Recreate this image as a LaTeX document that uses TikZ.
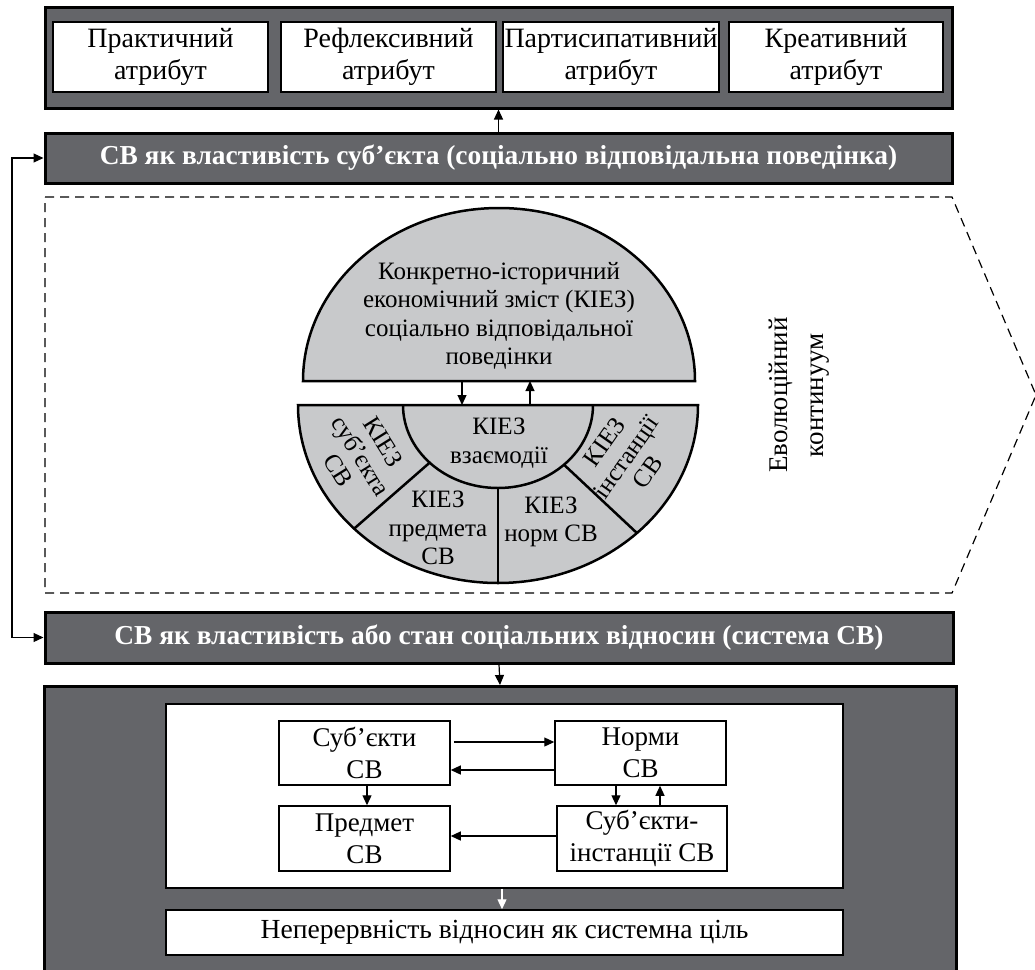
\documentclass[tikz,border=0pt]{standalone}
\usepackage{fontspec}
\setmainfont{Liberation Serif}
\usetikzlibrary{arrows.meta}
\definecolor{darkbg}{RGB}{100,101,105}
\definecolor{lightbg}{RGB}{200,201,203}
\begin{document}
\begin{tikzpicture}[x=1pt,y=1pt,
  darkbox/.style={draw=black, line width=3pt, fill=darkbg, inner sep=0pt},
  whitebox/.style={draw=black, line width=1.5pt, fill=white, inner sep=0pt, align=center, font=\fontsize{27}{31.6}\selectfont},
  attrbox/.style={whitebox, font=\fontsize{28}{31.7}\selectfont},
  hdr/.style={draw=black, line width=3pt, fill=darkbg, inner sep=0pt, text=white, font=\fontsize{27.4}{30}\selectfont\bfseries},
  txt/.style={inner sep=0pt, align=center, font=\fontsize{25}{28.3}\selectfont},
  outl/.style={draw=black, line width=2.5pt},
  arr/.style={-{Triangle[length=10pt,width=9pt]}, line width=1.2pt},
  arrboth/.style={{Triangle[length=10pt,width=9pt]}-{Triangle[length=10pt,width=9pt]}, line width=1.2pt}
]
\useasboundingbox (0,0) rectangle (1035,-969);

% top attribute block
\node[darkbox, minimum width=907pt, minimum height=101pt] (top) at (498.5,-57.5) {};
\node[attrbox, minimum width=215pt, minimum height=70pt] (a1) at (160.5,-57) {Практичний\\атрибут};
\node[attrbox, minimum width=215pt, minimum height=70pt] (a2) at (388.5,-57) {Рефлексивний\\атрибут};
\node[attrbox, minimum width=216pt, minimum height=70pt] (a3) at (611,-57) {Партисипативний\\атрибут};
\node[attrbox, minimum width=214pt, minimum height=70pt] (a4) at (836,-57) {Креативний\\атрибут};

% header 1
\node[hdr, minimum width=907pt, minimum height=50pt] (h1) at (498.5,-158) {СВ як властивість суб’єкта (соціально відповідальна поведінка)};
\draw[arr] (h1.north) -- (top.south);

% evolutionary continuum
\draw[dashed, dash pattern=on 9pt off 6pt, line width=1.2pt] (45,-197) -- (952,-197) -- (1036,-395) -- (952,-593) -- (45,-593) -- cycle;
\node[txt, rotate=90, font=\fontsize{27}{36}\selectfont] (evo) at (799,-395) {Еволюційний\\континуум};

% upper half disc
\draw[outl, fill=lightbg] (303,-381) arc[start angle=180, end angle=0, x radius=196, y radius=173] -- cycle;
\node[txt] (kiez) at (499,-316) {Конкретно-історичний\\економічний зміст (КІЕЗ)\\соціально відповідальної\\поведінки};
\coordinate (hs) at (499,-381);

% lower bowl
\draw[outl, fill=lightbg] (298,-405) arc[start angle=180, end angle=360, x radius=200, y radius=178] -- cycle;
\draw[outl] (403,-405) arc[start angle=180, end angle=360, x radius=95, y radius=83];
\coordinate (bw) at (498,-405);
\path (bw) ++(224:95 and 83) coordinate (li) (bw) ++(224:200 and 178) coordinate (lo);
\path (bw) ++(314:95 and 83) coordinate (ri) (bw) ++(314:200 and 178) coordinate (ro);
\path (bw) ++(270:95 and 83) coordinate (mi) (bw) ++(270:200 and 178) coordinate (mo);
\draw[outl] (li) -- (lo);
\draw[outl] (ri) -- (ro);
\draw[outl] (mi) -- (mo);

\node[txt] (vz) at (499,-443) {КІЕЗ\\взаємодії};
\node[txt, rotate=-58, font=\fontsize{25}{26.5}\selectfont] (sub) at (361,-456) {КІЕЗ\\суб’єкта\\СВ};
\node[txt, rotate=55, font=\fontsize{25}{26.5}\selectfont] (ins) at (626,-457) {КІЕЗ\\інстанції\\СВ};
\node[txt] (pr) at (438,-528) {КІЕЗ\\предмета\\СВ};
\node[txt] (nr) at (551,-522) {КІЕЗ\\норм СВ};

\draw[arr] ([xshift=-37pt]hs) -- ([xshift=-36pt]bw);
\draw[arr] ([xshift=32pt]bw) -- ([xshift=31pt]hs);

% header 2
\node[hdr, minimum width=908pt, minimum height=51pt] (h2) at (499,-637.5) {СВ як властивість або стан соціальних відносин (система СВ)};
\coordinate (fb) at (12,-400);
\draw[arrboth] (h1.west) -| (fb) |- (h2.west);

% bottom system block
\node[darkbox, minimum width=912pt, minimum height=300pt, anchor=north] (bot) at (500,-685) {};
\draw[arr] (h2.south) -- (bot.north);
\node[draw=black, line width=1.5pt, fill=white, inner sep=0pt, minimum width=677pt, minimum height=184pt] (wb) at (504.5,-796) {};
\node[whitebox, minimum width=171pt, minimum height=64pt] (s1) at (364.5,-753) {Суб’єкти\\СВ};
\node[whitebox, minimum width=171pt, minimum height=64pt] (n1) at (640.5,-753) {Норми\\СВ};
\node[whitebox, minimum width=171pt, minimum height=65pt] (p1) at (364.5,-838.5) {Предмет\\СВ};
\node[whitebox, minimum width=170pt, minimum height=65pt] (i1) at (642,-838.5) {Суб’єкти-\\інстанції СВ};
\node[whitebox, minimum width=677pt, minimum height=45pt, font=\fontsize{27.6}{31}\selectfont] (goal) at (504.5,-932.5) {Неперервність відносин як системна ціль};

\draw[arr] ([xshift=3pt,yshift=11pt]s1.east) -- ([yshift=11pt]n1.west);
\draw[arr] ([yshift=-17pt]n1.west) -- ([yshift=-17pt]s1.east);
\draw[arr] ([xshift=2.5pt]s1.south) -- ([xshift=2.5pt]p1.north);
\draw[arr] ([xshift=-24.5pt]n1.south) -- ([xshift=-26pt]i1.north);
\draw[arr] ([xshift=18pt]i1.north) -- ([xshift=19.5pt]n1.south);
\draw[arr] ([yshift=2.5pt]i1.west) -- ([yshift=2.5pt]p1.east);
\draw[arr, draw=white, fill=white] ([xshift=-2.5pt]wb.south) -- ([xshift=-2.5pt]goal.north);
\end{tikzpicture}
\end{document}
